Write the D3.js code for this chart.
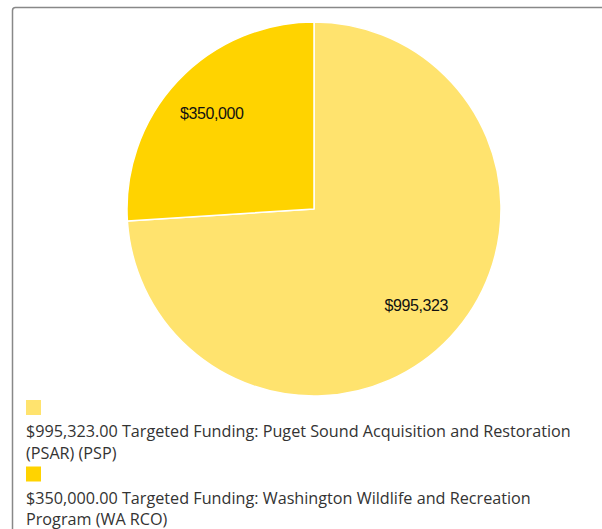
<!DOCTYPE html>
<html>
<head>
<meta charset="utf-8">
<script src="https://cdn.jsdelivr.net/npm/d3@7"></script>
<style>
  html, body { margin: 0; padding: 0; background: #fff; }
  svg { display: block; }
</style>
</head>
<body>
<svg id="chart" width="602" height="529"></svg>
<script>
const categories = [
  "Targeted Funding: Puget Sound Acquisition and Restoration (PSAR) (PSP)",
  "Targeted Funding: Washington Wildlife and Recreation Program (WA RCO)"
];
const values = [995323, 350000];
const sliceLabels = ["$995,323", "$350,000"];
const legendAmounts = ["$995,323.00", "$350,000.00"];
const colors = ["#FFE36E", "#FFD300"];

const svg = d3.select("#chart");

// Outer frame
svg.append("rect")
  .attr("x", 12.5).attr("y", 7.5)
  .attr("width", 600).attr("height", 540)
  .attr("rx", 3).attr("ry", 3)
  .attr("fill", "none").attr("stroke", "#888").attr("stroke-width", 1.5);

const cx = 314, cy = 209, R = 187;
const pie = d3.pie().sort(null).value(d => d)(values);
const arc = d3.arc().innerRadius(0).outerRadius(R);
const labelArc = d3.arc().innerRadius(R * 0.75).outerRadius(R * 0.75);

const g = svg.append("g").attr("transform", `translate(${cx},${cy})`);
g.selectAll("path.slice").data(pie).enter().append("path")
  .attr("class", "slice")
  .attr("d", arc)
  .attr("fill", (d, i) => colors[i])
  .attr("stroke", "#fff").attr("stroke-width", 1.5).attr("stroke-linejoin", "round");

g.selectAll("text.lbl").data(pie).enter().append("text")
  .attr("class", "lbl")
  .attr("transform", d => `translate(${labelArc.centroid(d)})`)
  .attr("text-anchor", "middle")
  .attr("dy", "0.35em")
  .attr("font-family", "'Liberation Sans', Arial, sans-serif")
  .attr("font-size", 16)
  .attr("letter-spacing", -0.4)
  .attr("fill", "#111")
  .text((d, i) => sliceLabels[i]);

// Legend
const legendX = 26, maxW = 556, lineH = 21.5;
const legend = svg.append("g");
let y = 400;
categories.forEach((c, i) => {
  legend.append("rect")
    .attr("x", legendX).attr("y", y)
    .attr("width", 15).attr("height", 15)
    .attr("fill", colors[i]);
  const text = legend.append("text")
    .attr("font-family", "'Open Sans', sans-serif")
    .attr("font-size", 16.2)
    .attr("fill", "#333");
  const words = (legendAmounts[i] + " " + c).split(" ");
  let line = [];
  let baseline = y + 37;
  let tspan = text.append("tspan").attr("x", legendX).attr("y", baseline);
  words.forEach(w => {
    line.push(w);
    tspan.text(line.join(" "));
    if (tspan.node().getComputedTextLength() > maxW && line.length > 1) {
      line.pop();
      tspan.text(line.join(" "));
      line = [w];
      baseline += lineH;
      tspan = text.append("tspan").attr("x", legendX).attr("y", baseline).text(w);
    }
  });
  y = baseline + 8;
});
</script>
</body>
</html>
